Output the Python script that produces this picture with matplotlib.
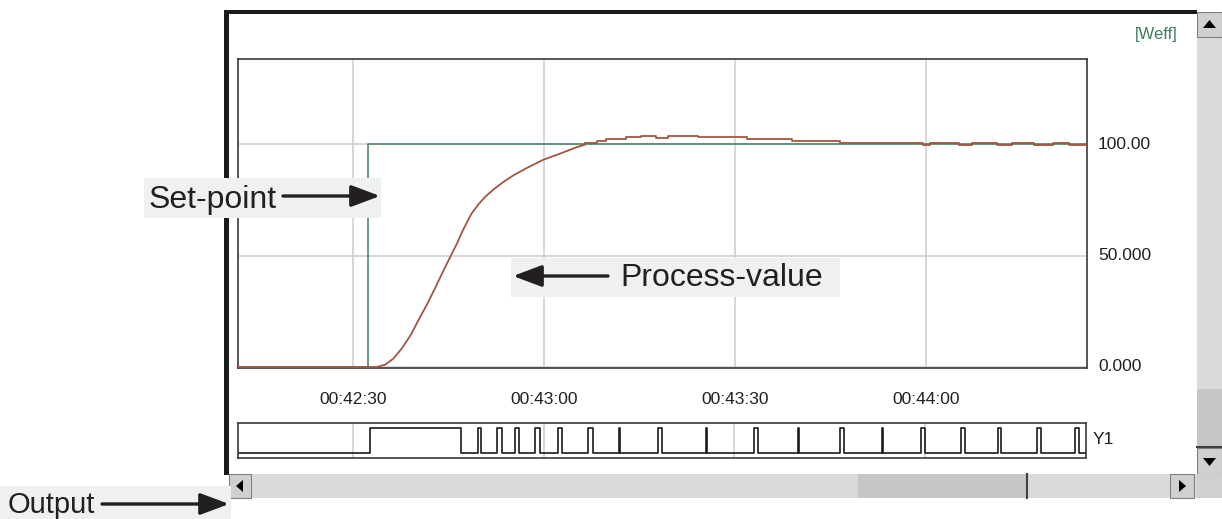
import matplotlib
matplotlib.use('Agg')
import matplotlib.pyplot as plt
from matplotlib.patches import Rectangle, Polygon

plt.rcParams['font.family'] = ['Liberation Sans', 'DejaVu Sans']

W, H = 1222, 519

# time axis: seconds after 00:42:00
t_min, t_max = 11.9, 145.3
x_ticks = [30, 60, 90, 120]
x_tick_labels = ['00:42:30', '00:43:00', '00:43:30', '00:44:00']
y_ticks = [0, 50, 100]
y_tick_labels = ['0.000', '50.000', '100.00']

# set-point (step)
sp_t = [11.9, 32.3, 145.3]
sp_v = [0, 100, 100]

# process value: rising part
pv_rise_t = [11.9, 33.7, 35.0, 36.3, 37.6, 39.0, 40.3, 41.6, 42.9, 44.2,
             45.3, 46.3, 47.1, 47.9, 48.6, 49.7, 50.7, 52.0, 53.6, 55.2,
             57.3, 59.9, 62.5, 65.1, 66.4]
pv_rise_v = [0, 0, 1.0, 3.7, 8.2, 14.2, 21.3, 28.1, 35.6, 43.4,
             49.7, 55.4, 60.6, 65.1, 68.9, 73.1, 76.3, 79.6, 83.1, 86.1,
             89.4, 93.1, 95.8, 98.7, 99.8]

# process value: overshoot / settling (sampled, stepwise)
pv_hold_t = [66.4, 68.3, 69.7, 72.8, 75.3, 77.6, 79.5, 84.2, 91.8, 98.9,
             106.5, 119.6, 120.6, 125.2, 127.3, 131.1, 133.5, 137.0, 139.9,
             142.5, 145.3]
pv_hold_v = [100.6, 101.35, 102.2, 103.1, 103.9, 103.0, 103.9, 103.1, 102.2,
             101.35, 100.6, 99.85, 100.6, 99.85, 100.6, 99.85, 100.6, 99.85,
             100.6, 99.85, 99.85]

# digital output Y1: switch-on / switch-off times
y1_on = [32.6, 49.6, 52.7, 55.5, 58.7, 62.2, 67.0, 71.8, 78.0, 85.5, 93.0,
         100.0, 106.6, 113.2, 119.4, 125.6, 131.5, 137.6, 143.5]
y1_off = [47.0, 50.2, 53.4, 56.1, 59.4, 62.9, 67.7, 72.0, 78.6, 85.7, 93.7,
          100.2, 107.3, 113.4, 120.0, 126.2, 132.0, 138.2, 144.2]

TXT = '#231f20'
GREEN = '#3d7f5c'
BROWN = '#a4553f'
GRID = '#cdcdcd'
FRAME = '#3a3a3a'
TRACK = '#dadada'
BUTTON = '#d0d0d0'
NOTE_BG = '#eef0f2'

fig = plt.figure(figsize=(W / 100, H / 100), dpi=100)


def px_axes(x0, y0, x1, y1, z=1):
    # axes placed by pixel box (top-left origin)
    return fig.add_axes([x0 / W, 1 - y1 / H, (x1 - x0) / W, (y1 - y0) / H], zorder=z)


# ---- background: window chrome ----
bg = px_axes(0, 0, W, H, z=0)
bg.set_xlim(0, W)
bg.set_ylim(H, 0)
bg.axis('off')

bg.add_patch(Rectangle((224, 10), 5, 465, fc='#1a1a1a', ec='none'))
bg.add_patch(Rectangle((224, 10), 973, 3.5, fc='#1a1a1a', ec='none'))

# horizontal scrollbar
bg.add_patch(Rectangle((229, 474), 968, 24, fc=TRACK, ec='none'))
bg.add_patch(Rectangle((229, 474), 22, 24, fc=BUTTON, ec='#808080', lw=0.8))
bg.add_patch(Polygon([(236, 486), (243, 480), (243, 492)], fc='black'))
bg.add_patch(Rectangle((1170, 474), 24, 24, fc=BUTTON, ec='#808080', lw=0.8))
bg.add_patch(Polygon([(1186, 486), (1179, 480), (1179, 492)], fc='black'))
bg.add_patch(Rectangle((858, 474), 169, 24, fc='#c6c6c6', ec='none'))
bg.plot([1027, 1027], [474, 498], color='#404040', lw=1.5)

# vertical scrollbar
bg.add_patch(Rectangle((1197, 12), 25, 462, fc=TRACK, ec='none'))
bg.add_patch(Rectangle((1197, 12), 25, 25, fc=BUTTON, ec='#808080', lw=0.8))
bg.add_patch(Polygon([(1209.5, 20), (1203, 28), (1216, 28)], fc='black'))
bg.add_patch(Rectangle((1197, 389), 25, 59, fc='#c6c6c6', ec='none'))
bg.plot([1197, 1222], [447, 447], color='#404040', lw=1.5)
bg.add_patch(Rectangle((1197, 448), 25, 26, fc=BUTTON, ec='#808080', lw=0.8))
bg.add_patch(Polygon([(1209.5, 466), (1203, 458), (1216, 458)], fc='black'))
bg.add_patch(Rectangle((1197, 474), 25, 24, fc=BUTTON, ec='none'))

bg.text(1178, 35, '[Weff]', color=GREEN, fontsize=12, ha='right', va='center')
bg.text(1093, 440, 'Y1', color=TXT, fontsize=12.5, ha='left', va='center')

# ---- main trend ----
ax = px_axes(238, 59, 1087, 368, z=2)
ax.set_xlim(t_min, t_max)
ax.set_ylim(-0.45, 138.3)
ax.plot(sp_t, sp_v, drawstyle='steps-post', color=GREEN, lw=1.1, zorder=3)
ax.plot(pv_rise_t, pv_rise_v, color=BROWN, lw=1.3, zorder=4)
ax.plot(pv_hold_t, pv_hold_v, drawstyle='steps-post', color=BROWN, lw=1.3, zorder=4)

ax.set_xticks(x_ticks, x_tick_labels)
ax.yaxis.tick_right()
ax.set_yticks(y_ticks, y_tick_labels)
ax.tick_params(axis='x', length=0, pad=17, labelsize=12.5, labelcolor=TXT)
ax.tick_params(axis='y', length=0, pad=8, labelsize=12.5, labelcolor=TXT)
for lbl in ax.get_yticklabels():
    lbl.set_verticalalignment('center')
ax.grid(True, color=GRID, lw=1.1)
for s in ax.spines.values():
    s.set_color(FRAME)
    s.set_linewidth(1.2)

# ---- digital output ----
dt = [t_min]
dv = [0]
for on, off in zip(y1_on, y1_off):
    dt += [on, off]
    dv += [1, 0]
dt.append(t_max)
dv.append(0)

ax2 = px_axes(238, 423, 1086, 458, z=2)
ax2.set_xlim(t_min, t_max)
ax2.set_ylim(-0.2, 1.2)
ax2.plot(dt, dv, drawstyle='steps-post', color='#1a1a1a', lw=1.2)
for t in x_ticks:
    ax2.axvline(t, color=GRID, lw=1.1, zorder=0)
ax2.set_xticks([])
ax2.set_yticks([])
for s in ax2.spines.values():
    s.set_color(FRAME)
    s.set_linewidth(1.2)

# ---- annotations ----
fg = px_axes(0, 0, W, H, z=10)
fg.set_xlim(0, W)
fg.set_ylim(H, 0)
fg.axis('off')
fg.patch.set_alpha(0)

arrow = dict(arrowstyle='-|>,head_length=0.8,head_width=0.3', lw=2.4,
             color=TXT, mutation_scale=22, shrinkA=0, shrinkB=0)

fg.add_patch(Rectangle((144, 178), 237, 40, fc=NOTE_BG, ec='none'))
fg.text(149, 208, 'Set-point', fontsize=23, color=TXT, ha='left', va='baseline')
fg.annotate('', xy=(380, 196), xytext=(283, 196), arrowprops=arrow)

fg.add_patch(Rectangle((511, 258), 329, 39, fc=NOTE_BG, ec='none'))
fg.text(620, 286, 'Process-value', fontsize=23, color=TXT, ha='left', va='baseline')
fg.annotate('', xy=(513, 276), xytext=(608, 276), arrowprops=arrow)

fg.add_patch(Rectangle((0, 486), 231, 33, fc=NOTE_BG, ec='none'))
fg.text(8, 513, 'Output', fontsize=21, color=TXT, ha='left', va='baseline')
fg.annotate('', xy=(229, 504), xytext=(102, 504), arrowprops=arrow)

fig.savefig('out.png', dpi=100)
